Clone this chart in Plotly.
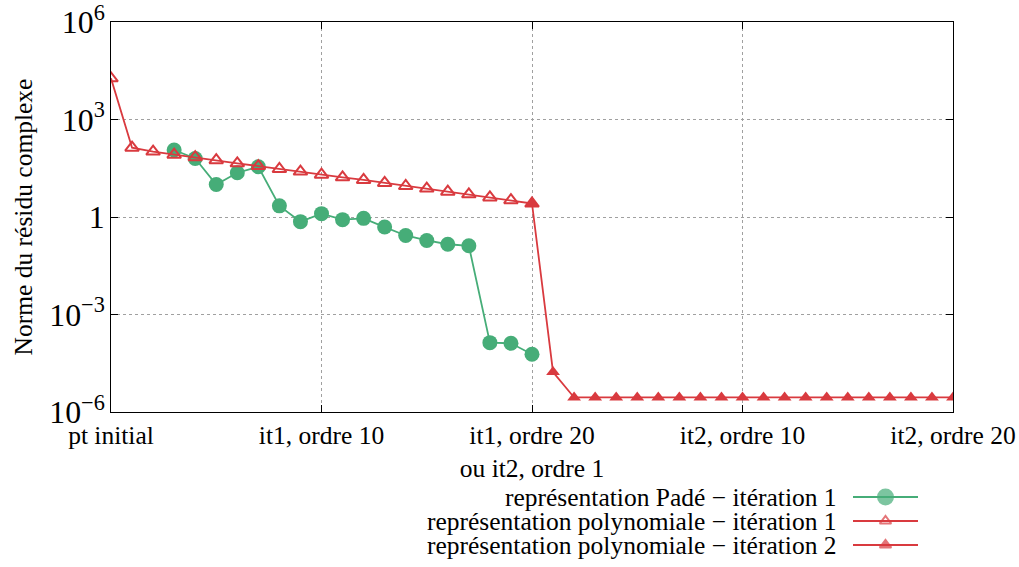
import plotly.graph_objects as go

W, H = 1019, 567


def px(x):
    return x / W


def py(y):
    return 1 - y / H


# ---- data ----
tick_vals = [0, 10, 20, 30, 40]
tick_text = ["pt initial", "it1, ordre 10", "it1, ordre 20<br>ou it2, ordre 1",
             "it2, ordre 10", "it2, ordre 20"]

pade_x = list(range(3, 21))
pade_y = [115, 63, 10, 23, 35, 2.2, 0.72, 1.27, 0.83, 0.91, 0.49, 0.27, 0.19,
          0.145, 0.13, 1.36e-4, 1.3e-4, 6.0e-5]

poly1_x = list(range(0, 21))
poly1_y = [1.85e4, 136, 103, 83, 69, 56, 45, 37, 30, 25, 20, 16.6, 13.8, 11.2,
           9.0, 7.5, 6.0, 5.0, 4.0, 3.3, 2.6]

poly2_x = list(range(20, 41))
poly2_y = [2.6, 1.7e-5] + [2.8e-6] * 19

legend_names = ["représentation Padé − itération 1",
                "représentation polynomiale − itération 1",
                "représentation polynomiale − itération 2"]

GREEN = "#46ad78"
RED = "#d93a3f"
FONT = "Liberation Serif, Times New Roman, serif"
FS = 25.5

fig = go.Figure()
fig.add_trace(go.Scatter(x=pade_x, y=pade_y, mode="lines+markers",
                         line=dict(color=GREEN, width=1.8),
                         marker=dict(symbol="circle", size=15, color=GREEN),
                         showlegend=False))
fig.add_trace(go.Scatter(x=poly1_x, y=poly1_y, mode="lines+markers",
                         line=dict(color=RED, width=1.8),
                         marker=dict(symbol="triangle-up-open", size=12, color=RED,
                                     line=dict(width=2, color=RED)),
                         showlegend=False))
fig.add_trace(go.Scatter(x=poly2_x, y=poly2_y, mode="lines+markers",
                         line=dict(color=RED, width=1.8),
                         marker=dict(symbol="triangle-up", size=12, color=RED),
                         showlegend=False))

# ---- custom legend (samples on the right of right-aligned text) ----
rows = [2.5, 1.5, 0.5]
styles = [
    dict(symbol="circle", size=15, color=GREEN, lc=GREEN),
    dict(symbol="triangle-up-open", size=10, color=RED, lc=RED),
    dict(symbol="triangle-up", size=10, color=RED, lc=RED),
]
for r, s in zip(rows, styles):
    fig.add_trace(go.Scatter(x=[0, 0.5, 1], y=[r, r, r], mode="lines+markers",
                             xaxis="x2", yaxis="y2",
                             line=dict(color=s["lc"], width=1.8),
                             marker=dict(symbol=s["symbol"], size=[0, s["size"], 0],
                                         color=s["color"],
                                         line=dict(width=2, color=s["color"])),
                             showlegend=False, hoverinfo="skip"))
for r, name in zip(rows, legend_names):
    fig.add_annotation(x=px(839), y=r, xref="paper", yref="y2", text=name,
                       showarrow=False, xanchor="right", yanchor="middle",
                       font=dict(family=FONT, size=FS, color="black"))

axis_common = dict(showgrid=True, gridcolor="#a0a0a0", griddash="dot", gridwidth=1,
                   showline=True, linecolor="black", linewidth=1.2, mirror="ticks",
                   ticks="inside", ticklen=7, tickcolor="black", zeroline=False,
                   automargin=False, ticklabeloverflow="allow",
                   tickfont=dict(family=FONT, size=FS))

fig.update_layout(
    width=W, height=H,
    margin=dict(l=0, r=0, t=0, b=0, autoexpand=False),
    paper_bgcolor="white", plot_bgcolor="white",
    font=dict(family=FONT, size=FS, color="black"),
    xaxis=dict(domain=[px(111), px(953)], range=[0, 40],
               tickvals=tick_vals, ticktext=tick_text, anchor="y",
               **axis_common),
    yaxis=dict(domain=[py(412), py(22)], type="log", range=[-6, 6],
               dtick=3, exponentformat="power", anchor="x",
               title=dict(text="Norme du résidu complexe", standoff=9,
                          font=dict(family=FONT, size=FS)),
               **axis_common),
    xaxis2=dict(domain=[px(853), px(918)], range=[0, 1], visible=False,
                fixedrange=True, anchor="y2", automargin=False),
    yaxis2=dict(domain=[py(557), py(485)], range=[0, 3], visible=False,
                fixedrange=True, anchor="x2", automargin=False),
)

fig.write_html("out.html",
               config={"displayModeBar": False},
               post_script="document.body.style.margin='0';"
                           "document.body.style.overflow='hidden';")
